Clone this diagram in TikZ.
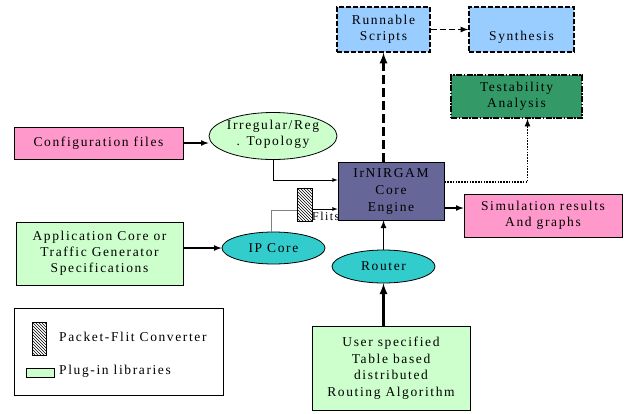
\documentclass[tikz,border=0pt]{standalone}
\usepackage{fontspec}
\setmainfont{Liberation Serif}[LetterSpace=12]
\usetikzlibrary{positioning, arrows, patterns, shapes.geometric}
\definecolor{skyblue}{HTML}{99CCFF}
\definecolor{deepgreen}{HTML}{339966}
\definecolor{rosepink}{HTML}{FF99CC}
\definecolor{palegreen}{HTML}{CCFFCC}
\definecolor{tealcyan}{HTML}{33CCCC}
\definecolor{slate}{HTML}{666699}

\begin{document}
\begin{tikzpicture}[x=1pt, y=-1pt, font=\fontsize{13.5}{16}\selectfont,
    box/.style={draw, align=center, inner sep=0pt, line width=0.8pt},
    bluebox/.style={box, fill=skyblue, line width=1.4pt, dash pattern=on 5pt off 2pt, minimum height=45},
    blob/.style={ellipse, draw, align=center, inner sep=0pt, line width=0.8pt},
    arr/.style={-latex, line width=1.6pt},
    thinarr/.style={-latex, line width=0.8pt}]
    \useasboundingbox (0,0) rectangle (627,413);
    \node[bluebox, minimum width=93] (runnable) at (383.5,29.5) {Runnable\\Scripts};
    \node[bluebox, minimum width=105] (synth) at (521.5,29.5) {};
    \node at ([yshift=-8]synth.center) {Synthesis};
    \node[box, fill=deepgreen, line width=1.4pt, dash pattern=on 6pt off 1.5pt on 1.5pt off 1.5pt, minimum width=131, minimum height=43] (testa) at (516.5,96.5) {Testability\\Analysis};
    \node[box, fill=rosepink, minimum width=169, minimum height=32] (config) at (98.5,143) {Configuration files};
    \node[blob, fill=palegreen, minimum width=128, minimum height=47] (topo) at (273,136) {};
    \node[align=center] at ([yshift=2]topo.center) {Irregular/Reg\\. Topology};
    \node[box, fill=palegreen, minimum width=167, minimum height=63] (app) at (99.5,253.5) {Application Core or\\Traffic Generator\\Specifications};
    \node[blob, fill=tealcyan, minimum width=103, minimum height=32] (ipcore) at (273.5,248) {IP Core};
    \node[draw, pattern=north west lines, minimum width=15, minimum height=33, inner sep=0pt] (conv) at (304.5,204.5) {};
    \node[anchor=west, inner sep=0pt, font=\fontsize{12}{14}\selectfont] (flits) at (312,216) {Flits};
    \node[box, fill=slate, minimum width=106, minimum height=58, font=\fontsize{13.5}{17}\selectfont] (core) at (391,191) {IrNIRGAM\\Core\\Engine};
    \node[box, fill=rosepink, minimum width=158, minimum height=43] (sim) at (543,215.5) {Simulation results\\And graphs};
    \node[blob, fill=tealcyan, minimum width=103, minimum height=33] (router) at (383.5,266.5) {Router};
    \node[box, fill=palegreen, minimum width=158, minimum height=84, font=\fontsize{13.5}{16.5}\selectfont] (user) at (391,368) {User specified\\Table based\\distributed\\Routing Algorithm};
    \node[draw, line width=0.8pt, minimum width=209, minimum height=87] (legend) at (118.5,351.5) {};
    \node[draw, pattern=north west lines, minimum width=14, minimum height=33, inner sep=0pt] (legconv) at (39,338.5) {};
    \node[anchor=west, inner sep=0pt] (legconvtxt) at (59,337) {Packet-Flit Converter};
    \node[draw, fill=palegreen, minimum width=28, minimum height=9, inner sep=0pt] (legplug) at (40,372.5) {};
    \node[anchor=west, inner sep=0pt] (legplugtxt) at (59,371) {Plug-in libraries};

    \draw[arr, dash pattern=on 6pt off 3pt] (runnable) -- (synth);
    \draw[arr, dash pattern=on 9pt off 4pt, line width=2.6pt] (runnable.south |- core.north) -- (runnable.south);
    \draw[thinarr, line width=1.6pt, dash pattern=on 1.6pt off 1.2pt] ([yshift=9]core.east) -| ([xshift=11]testa.south);
    \draw[arr] (config.east) -- (config.east -| topo.west);
    \draw[thinarr] (topo.south) |- ([yshift=11]core.west);
    \draw[gray, line width=0.8pt] ([xshift=-2]ipcore.north) |- ([yshift=-5.5]conv.west);
    \draw[thinarr] ([yshift=-4.5]conv.east) -- ([yshift=-4.5]conv.east -| core.west);
    \draw[arr] (app.east |- ipcore) -- (ipcore.west);
    \coordinate (c2s) at ([yshift=-17]core.east);
    \draw[arr] (c2s) -- (c2s -| sim.west);
    \draw[arr] (router.north) -- (router.north |- core.south);
    \draw[arr, line width=2.6pt] (user.north -| router) -- (router.south);
\end{tikzpicture}
\end{document}
